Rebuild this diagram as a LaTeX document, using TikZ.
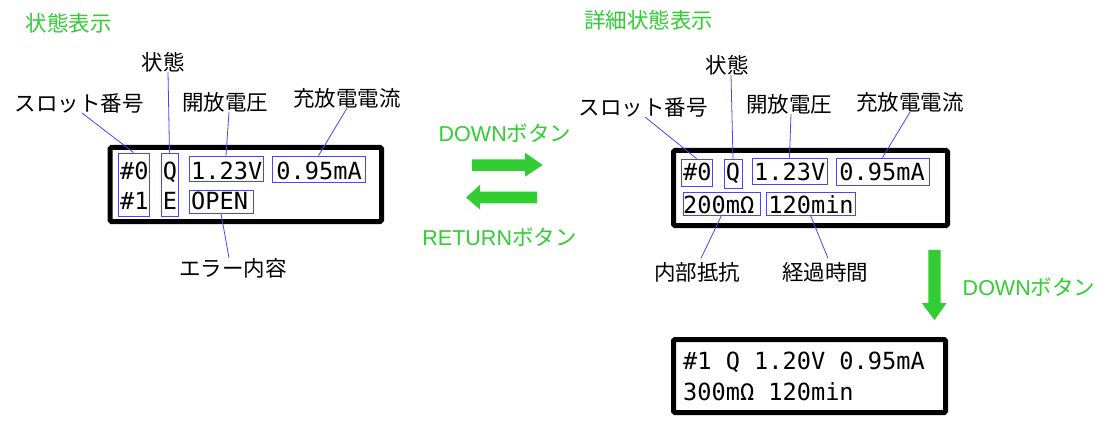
\documentclass[tikz,border=0pt]{standalone}
\usepackage{fontspec}
\setmainfont{Liberation Sans}
\newfontfamily\jp{Noto Sans CJK JP}
\newfontfamily\lat{Liberation Sans}
\newfontfamily\mono{DejaVu Sans Mono}
\definecolor{grn}{RGB}{50,205,50}
\definecolor{bln}{RGB}{70,70,255}
\tikzset{
 lbl/.style={inner sep=0pt, font=\jp\fontsize{21.5}{24}\selectfont},
 glbl/.style={inner sep=0pt, text=grn, font=\jp\fontsize{21.5}{24}\selectfont},
 lcd/.style={draw=black, line width=5pt, rounded corners=1.5pt},
 bbox/.style={draw=bln, line width=0.9pt, inner sep=0pt},
 lead/.style={draw=bln, line width=0.8pt},
 monotxt/.style={inner sep=0pt, anchor=base west, font=\mono\fontsize{23.6}{28}\selectfont},
 garrow/.style={fill=grn, draw=none},
}
\begin{document}
\begin{tikzpicture}[x=1pt,y=-1pt]
\useasboundingbox[fill=white] (0,0) rectangle (1105,422);

% ---------- left panel: 状態表示 ----------
\node[glbl] (tA) at (68.5,23) {状態表示};
\draw[lcd] (110,147.5) rectangle (381.5,221.5);
\node[monotxt] (a1) at (120,179) {\#0 Q 1.23V 0.95mA};
\node[monotxt] (a2) at (120,209) {\#1 E OPEN};
\node[bbox, minimum width=31pt, minimum height=63pt] (aS) at (133.5,184.5) {};
\node[bbox, minimum width=17pt, minimum height=63pt] (aQ) at (169.5,184.5) {};
\node[bbox, minimum width=74pt, minimum height=25pt] (aV) at (226,168.5) {};
\node[bbox, minimum width=93pt, minimum height=26pt] (aC) at (318.5,169) {};
\node[bbox, minimum width=64pt, minimum height=23pt] (aO) at (221,201.5) {};
\node[lbl] (aLslot) at (79,103) {スロット番号};
\node[lbl] (aLstate) at (163,62) {状態};
\node[lbl] (aLvolt) at (225,102) {開放電圧};
\node[lbl] (aLcur) at (347,98) {充放電電流};
\node[lbl] (aLerr) at (233,268) {エラー内容};
\draw[lead] ([xshift=3pt]aLslot.south) -- (aS.north);
\draw[lead] ([xshift=5pt]aLstate.south) -- (aQ.north);
\draw[lead] ([xshift=4pt]aLvolt.south) -- (aV.north);
\draw[lead] (aLcur.south) -- (aC.north);
\draw[lead] (aO.south) -- ([xshift=-4pt]aLerr.north);

% ---------- middle arrows ----------
\node[glbl] (mDown) at (505,133) {{\lat DOWN}ボタン};
\node[glbl] (mRet) at (499.5,237) {{\lat RETURN}ボタン};
\fill[garrow] (472,159.3) -- (525,159.3) -- (525,152.7) -- (542.7,165) -- (525,176.7) -- (525,171) -- (472,171) -- cycle;
\fill[garrow] (537,191.7) -- (480,191.7) -- (480,185) -- (466,197.5) -- (480,209.5) -- (480,203.3) -- (537,203.3) -- cycle;

% ---------- right panel: 詳細状態表示 ----------
\node[glbl] (tB) at (648.5,20) {詳細状態表示};
\draw[lcd] (673.5,150.5) rectangle (947.5,225.5);
\node[monotxt] (b1) at (683,181) {\#0 Q 1.23V 0.95mA};
\node[monotxt] (b2) at (683,213) {200mΩ 120min};
\node[bbox, minimum width=31pt, minimum height=27pt] (bS) at (696.5,172.5) {};
\node[bbox, minimum width=18pt, minimum height=29pt] (bQ) at (733,173.5) {};
\node[bbox, minimum width=75pt, minimum height=26pt] (bV) at (789.5,171) {};
\node[bbox, minimum width=93pt, minimum height=27pt] (bC) at (882.5,171.5) {};
\node[bbox, minimum width=77pt, minimum height=23pt] (bR) at (721.5,203.5) {};
\node[bbox, minimum width=89pt, minimum height=23pt] (bT) at (810.5,203.5) {};
\node[lbl] (bLslot) at (643,107) {スロット番号};
\node[lbl] (bLstate) at (727,65) {状態};
\node[lbl] (bLvolt) at (789,104) {開放電圧};
\node[lbl] (bLcur) at (910,102) {充放電電流};
\node[lbl] (bLres) at (697,272.5) {内部抵抗};
\node[lbl] (bLtime) at (825,272.5) {経過時間};
\draw[lead] ([xshift=2pt]bLslot.south) -- (bS.north);
\draw[lead] ([xshift=4pt]bLstate.south) -- (bQ.north);
\draw[lead] ([xshift=2pt]bLvolt.south) -- (bV.north);
\draw[lead] (bLcur.south) -- (bC.north);
\draw[lead] (bR.south) -- ([xshift=4pt,yshift=4pt]bLres.north);
\draw[lead] (bT.south) -- ([xshift=3pt,yshift=4pt]bLtime.north);

% ---------- down arrow and next screen ----------
\fill[garrow] (928.3,250) -- (940.7,250) -- (940.7,303) -- (946.7,303) -- (934.5,320) -- (921.7,303) -- (928.3,303) -- cycle;
\node[glbl] (rDown) at (1029,287) {{\lat DOWN}ボタン};
\draw[lcd] (673.5,339.5) rectangle (945.5,412.5);
\node[monotxt] (c1) at (683,369) {\#1 Q 1.20V 0.95mA};
\node[monotxt] (c2) at (683,400) {300mΩ 120min};
\end{tikzpicture}
\end{document}
